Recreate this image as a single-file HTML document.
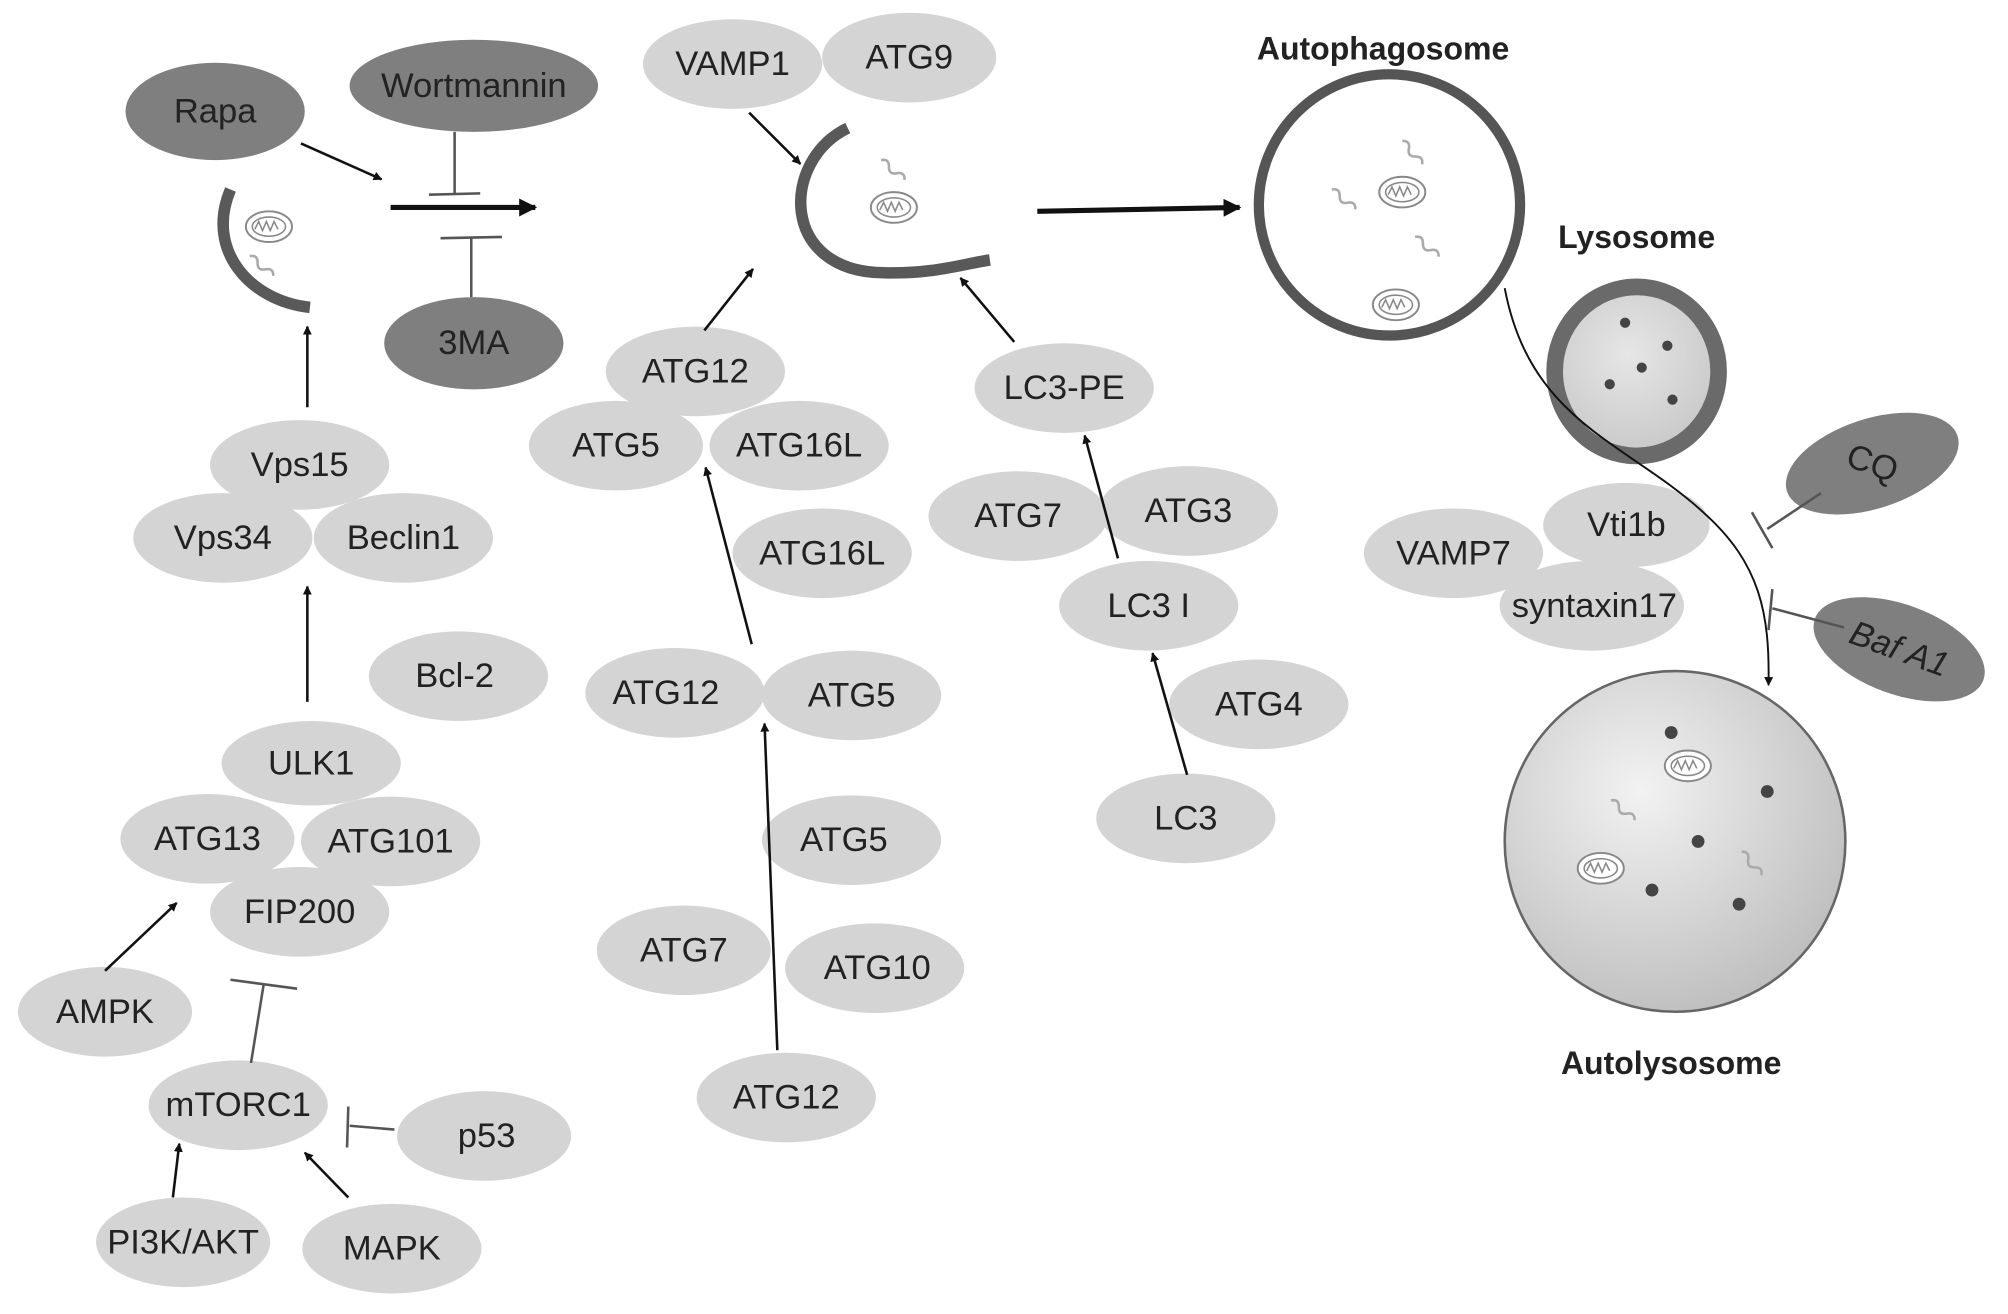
<!DOCTYPE html>
<html><head><meta charset="utf-8"><style>html,body{margin:0;padding:0;background:#fff}svg{display:block}</style></head>
<body>
<svg width="2008" height="1314" viewBox="0 0 1568 1026" preserveAspectRatio="none" xmlns="http://www.w3.org/2000/svg" font-family="Liberation Sans, sans-serif">
<defs>
<marker id="a" viewBox="0 0 10 10" refX="9" refY="5" markerWidth="7" markerHeight="7" orient="auto-start-reverse" markerUnits="userSpaceOnUse"><path d="M0,0 L10,5 L0,10z" fill="#111"/></marker>
<marker id="b" viewBox="0 0 10 10" refX="9" refY="5" markerWidth="14" markerHeight="14" orient="auto" markerUnits="userSpaceOnUse"><path d="M0,0 L10,5 L0,10z" fill="#111"/></marker>
<radialGradient id="g1" cx="0.4" cy="0.35" r="0.7"><stop offset="0" stop-color="#f2f2f2"/><stop offset="1" stop-color="#bdbdbd"/></radialGradient>
<radialGradient id="g2" cx="0.45" cy="0.4" r="0.7"><stop offset="0" stop-color="#e6e6e6"/><stop offset="1" stop-color="#c4c4c4"/></radialGradient>
<g id="mito"><ellipse cx="0" cy="0" rx="18" ry="12" fill="#fff" stroke="#888" stroke-width="1.5"/><ellipse cx="0" cy="0" rx="13" ry="7.5" fill="none" stroke="#888" stroke-width="1.2"/><path d="M-11,2 l3,-6 l3,7 l3,-7 l3,7 l3,-7 l3,6" fill="none" stroke="#888" stroke-width="1.2"/></g>
<path id="sq" d="M0,0 q4,-5 8,0 t8,0 t8,0" fill="none" stroke="#aaa" stroke-width="2"/>
</defs>
<g font-size="27" fill="#222" text-anchor="middle" dominant-baseline="central">
<g fill="#7f7f7f">
<ellipse cx="168" cy="87" rx="70" ry="38"/>
<ellipse cx="370" cy="67" rx="97" ry="36"/>
<ellipse cx="370" cy="268" rx="70" ry="36"/>
<ellipse cx="1462" cy="362" rx="70" ry="35" transform="rotate(-18 1462 362)"/>
<ellipse cx="1483" cy="507" rx="70" ry="35" transform="rotate(20 1483 507)"/>
</g>
<g fill="#d4d4d4">
<ellipse cx="572" cy="50" rx="70" ry="35"/><ellipse cx="710" cy="45" rx="68" ry="35"/>
<ellipse cx="234" cy="363" rx="70" ry="35"/><ellipse cx="174" cy="420" rx="70" ry="35"/><ellipse cx="315" cy="420" rx="70" ry="35"/>
<ellipse cx="358" cy="528" rx="70" ry="35"/>
<ellipse cx="243" cy="596" rx="70" ry="33"/><ellipse cx="162" cy="655" rx="68" ry="35"/><ellipse cx="305" cy="657" rx="70" ry="35"/><ellipse cx="234" cy="712" rx="70" ry="35"/>
<ellipse cx="82" cy="790" rx="68" ry="35"/><ellipse cx="186" cy="863" rx="70" ry="35"/><ellipse cx="378" cy="887" rx="68" ry="35"/>
<ellipse cx="143" cy="970" rx="68" ry="35"/><ellipse cx="306" cy="975" rx="70" ry="35"/>
<ellipse cx="543" cy="290" rx="70" ry="35"/><ellipse cx="481" cy="348" rx="68" ry="35"/><ellipse cx="624" cy="348" rx="70" ry="35"/>
<ellipse cx="642" cy="432" rx="70" ry="35"/>
<ellipse cx="527" cy="541" rx="70" ry="35"/><ellipse cx="665" cy="543" rx="70" ry="35"/>
<ellipse cx="665" cy="656" rx="70" ry="35"/><ellipse cx="534" cy="742" rx="68" ry="35"/><ellipse cx="683" cy="756" rx="70" ry="35"/>
<ellipse cx="614" cy="857" rx="70" ry="35"/>
<ellipse cx="831" cy="303" rx="70" ry="35"/><ellipse cx="795" cy="403" rx="70" ry="35"/><ellipse cx="928" cy="399" rx="70" ry="35"/>
<ellipse cx="897" cy="473" rx="70" ry="35"/><ellipse cx="983" cy="550" rx="70" ry="35"/><ellipse cx="926" cy="639" rx="70" ry="35"/>
<ellipse cx="1270" cy="410" rx="65" ry="33"/><ellipse cx="1135" cy="432" rx="70" ry="35"/><ellipse cx="1243" cy="473" rx="72" ry="35"/>
</g>
<text x="168" y="87">Rapa</text><text x="370" y="67">Wortmannin</text><text x="370" y="268">3MA</text>
<text x="1462" y="362" transform="rotate(20 1462 362)">CQ</text><text x="1483" y="507" font-style="italic" transform="rotate(20 1483 507)">Baf A1</text>
<text x="572" y="50">VAMP1</text><text x="710" y="45">ATG9</text>
<text x="234" y="363">Vps15</text><text x="174" y="420">Vps34</text><text x="315" y="420">Beclin1</text>
<text x="355" y="528">Bcl-2</text>
<text x="243" y="596">ULK1</text><text x="162" y="655">ATG13</text><text x="305" y="657">ATG101</text><text x="234" y="712">FIP200</text>
<text x="82" y="790">AMPK</text><text x="186" y="863">mTORC1</text><text x="380" y="887">p53</text>
<text x="143" y="970">PI3K/AKT</text><text x="306" y="975">MAPK</text>
<text x="543" y="290">ATG12</text><text x="481" y="348">ATG5</text><text x="624" y="348">ATG16L</text>
<text x="642" y="432">ATG16L</text>
<text x="520" y="541">ATG12</text><text x="665" y="543">ATG5</text>
<text x="659" y="656">ATG5</text><text x="534" y="742">ATG7</text><text x="685" y="756">ATG10</text>
<text x="614" y="857">ATG12</text>
<text x="831" y="303">LC3-PE</text><text x="795" y="403">ATG7</text><text x="928" y="399">ATG3</text>
<text x="897" y="473">LC3 I</text><text x="983" y="550">ATG4</text><text x="926" y="639">LC3</text>
<text x="1270" y="410">Vti1b</text><text x="1135" y="432">VAMP7</text><text x="1245" y="473">syntaxin17</text>
<g font-weight="bold" font-size="25"><text x="1080" y="38">Autophagosome</text><text x="1278" y="185">Lysosome</text><text x="1305" y="830">Autolysosome</text></g>
</g>
<!-- phagophores -->
<path d="M242,240 C195,235 160,195 180,148" fill="none" stroke="#595959" stroke-width="9"/>
<use href="#mito" x="210" y="177"/><use href="#sq" transform="translate(195,200) rotate(40)"/>
<path d="M662,100 C610,125 608,212 690,213 C730,214 752,206 773,203" fill="none" stroke="#595959" stroke-width="9"/>
<use href="#mito" x="698" y="162"/><use href="#sq" transform="translate(688,125) rotate(40)"/>
<!-- autophagosome -->
<circle cx="1085" cy="160" r="102" fill="#fff" stroke="#555" stroke-width="8"/>
<use href="#mito" x="1095" y="150"/><use href="#mito" x="1090" y="238"/>
<use href="#sq" transform="translate(1040,148) rotate(40)"/><use href="#sq" transform="translate(1095,110) rotate(50)"/><use href="#sq" transform="translate(1105,185) rotate(40)"/>
<!-- lysosome -->
<ellipse cx="1278" cy="290" rx="64" ry="66" fill="url(#g2)" stroke="#6a6a6a" stroke-width="13"/>
<g fill="#444"><circle cx="1269" cy="252" r="4"/><circle cx="1302" cy="270" r="4"/><circle cx="1282" cy="287" r="4"/><circle cx="1257" cy="300" r="4"/><circle cx="1306" cy="312" r="4"/></g>
<!-- autolysosome -->
<circle cx="1308" cy="657" r="133" fill="url(#g1)" stroke="#666" stroke-width="2"/>
<g fill="#444"><circle cx="1305" cy="572" r="5"/><circle cx="1380" cy="618" r="5"/><circle cx="1326" cy="657" r="5"/><circle cx="1290" cy="695" r="5"/><circle cx="1358" cy="706" r="5"/></g>
<use href="#mito" x="1318" y="598"/><use href="#mito" x="1250" y="678"/>
<use href="#sq" transform="translate(1258,625) rotate(40)"/><use href="#sq" transform="translate(1360,665) rotate(50)"/>
<!-- connectors -->
<g stroke="#111" stroke-width="2" fill="none">
<line x1="235" y1="112" x2="298" y2="140" marker-end="url(#a)"/>
<line x1="305" y1="162" x2="418" y2="162" stroke-width="4" marker-end="url(#b)"/>
<line x1="355" y1="103" x2="355" y2="152" stroke="#555"/><line x1="335" y1="152" x2="375" y2="151" stroke="#555"/>
<line x1="368" y1="232" x2="368" y2="186" stroke="#555"/><line x1="344" y1="186" x2="392" y2="185" stroke="#555"/>
<line x1="240" y1="318" x2="240" y2="255" marker-end="url(#a)"/>
<line x1="240" y1="548" x2="240" y2="458" marker-end="url(#a)"/>
<line x1="82" y1="758" x2="138" y2="705" marker-end="url(#a)"/>
<line x1="196" y1="830" x2="206" y2="768" stroke="#555"/><line x1="180" y1="765" x2="232" y2="772" stroke="#555"/>
<line x1="308" y1="882" x2="273" y2="879" stroke="#555"/><line x1="272" y1="864" x2="271" y2="896" stroke="#555"/>
<line x1="135" y1="935" x2="140" y2="893" marker-end="url(#a)"/>
<line x1="272" y1="935" x2="238" y2="900" marker-end="url(#a)"/>
<line x1="585" y1="88" x2="625" y2="128" marker-end="url(#a)"/>
<line x1="550" y1="258" x2="588" y2="210" marker-end="url(#a)"/>
<line x1="587" y1="503" x2="551" y2="365" marker-end="url(#a)"/>
<line x1="607" y1="820" x2="597" y2="565" marker-end="url(#a)"/>
<line x1="792" y1="267" x2="750" y2="217" marker-end="url(#a)"/>
<line x1="873" y1="436" x2="847" y2="340" marker-end="url(#a)"/>
<line x1="927" y1="605" x2="900" y2="510" marker-end="url(#a)"/>
<line x1="810" y1="165" x2="968" y2="162" stroke-width="4" marker-end="url(#b)"/>
<path d="M1175,225 C1195,330 1270,345 1330,400 C1375,440 1382,480 1381,535" stroke-width="1.5" marker-end="url(#a)"/>
<line x1="1422" y1="385" x2="1380" y2="413" stroke="#555"/><line x1="1368" y1="400" x2="1384" y2="428" stroke="#555"/>
<line x1="1440" y1="490" x2="1384" y2="475" stroke="#555"/><line x1="1384" y1="460" x2="1381" y2="492" stroke="#555"/>
</g>
</svg>
</body></html>
